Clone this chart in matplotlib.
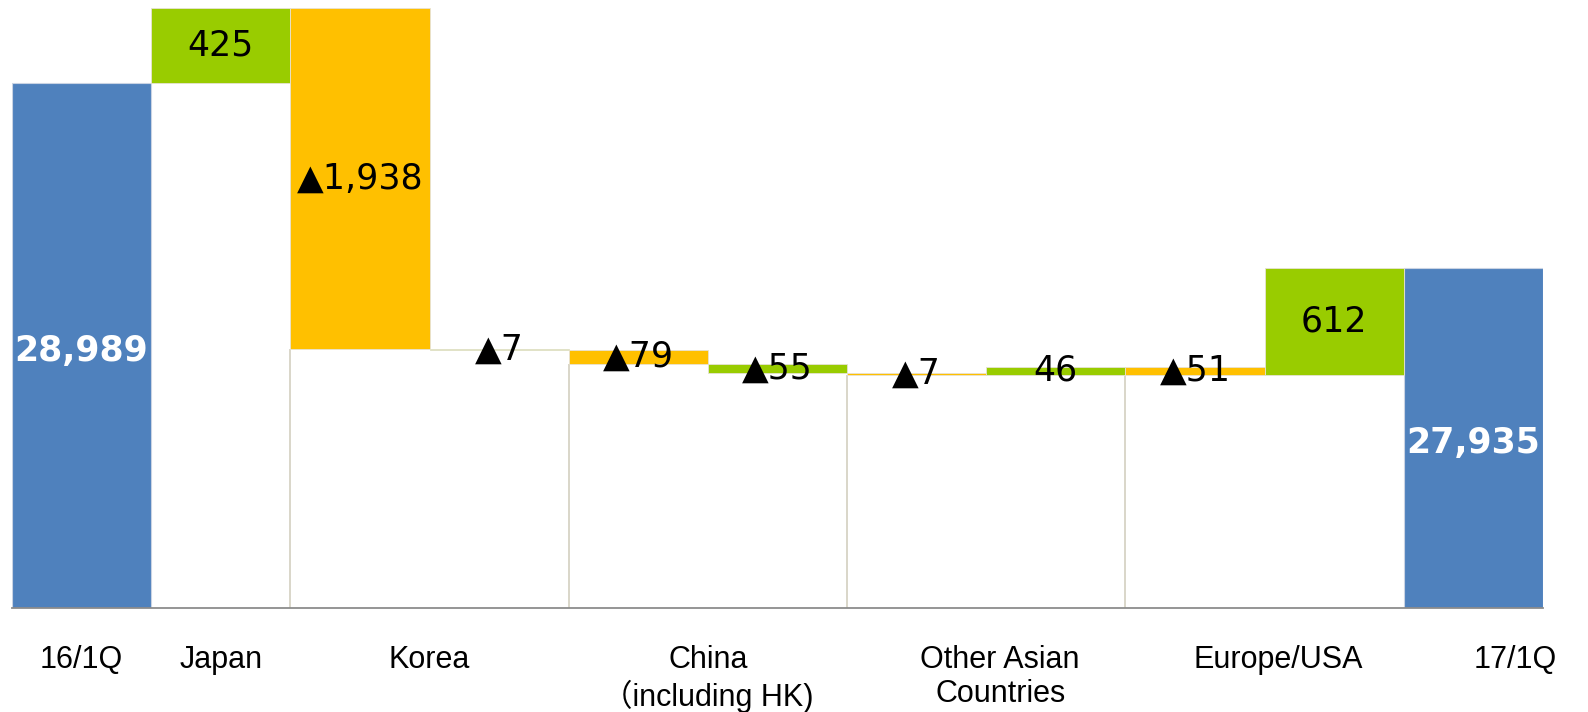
import matplotlib.pyplot as plt
import numpy as np

# Sales bridge 16/1Q -> 17/1Q by region
start_value = 28989
end_value = 27935
changes = [425, -1938, -7, -79, -55, -7, 46, -51, 612]
categories = ['16/1Q', 'Japan', 'Korea', 'China\n（including HK)',
              'Other Asian\nCountries', 'Europe/USA', '17/1Q']

BLUE = '#4F81BD'
GREEN = '#99CC00'
ORANGE = '#FFC000'
change_colors = [GREEN, ORANGE, GREEN, ORANGE, GREEN, ORANGE, GREEN, ORANGE, GREEN]

fig = plt.figure(figsize=(15.88, 7.12), dpi=100)
ax = fig.add_axes([12 / 1588, (712 - 608) / 712, 1531 / 1588, 600 / 712])

n = len(changes) + 2
x = np.arange(n)
base = 26000

# totals at both ends
ax.bar([0, n - 1], [start_value, end_value], width=1.0, color=BLUE,
       edgecolor='#c9d3e3', linewidth=0.8)

# floating change bars
before = start_value + np.concatenate([[0], np.cumsum(changes)[:-1]])
after = start_value + np.cumsum(changes)
bottoms = np.minimum(before, after)
heights = np.abs(changes)
ax.bar(x[1:-1], heights, bottom=bottoms, width=1.0, color=change_colors,
       edgecolor='#e6e2d6', linewidth=0.6)

# thin separators under the orange bars
for i, c in enumerate(changes):
    if change_colors[i] == ORANGE:
        ax.vlines(x[i + 1] - 0.5, base, bottoms[i], color='#d3cfc0', linewidth=1.2, zorder=0)

# value labels
for i, c in enumerate(changes):
    txt = f'{c:,}' if c > 0 else f'▲{abs(c):,}'
    ax.text(x[i + 1], bottoms[i] + heights[i] / 2, txt, ha='center', va='center',
            fontsize=25, color='black', family='DejaVu Sans')
for xi, v in [(0, start_value), (n - 1, end_value)]:
    ax.text(xi, base + (v - base) / 2 - 30, f'{v:,}', ha='center', va='center',
            fontsize=25, fontweight='bold', color='white', family='DejaVu Sans')

ax.set_xlim(-0.5, n - 0.5)
ax.set_ylim(base, 29414)
ax.set_xticks([])
ax.set_yticks([])
for side in ['left', 'right', 'top']:
    ax.spines[side].set_visible(False)
ax.spines['bottom'].set_color('#8c8c8c')
ax.spines['bottom'].set_linewidth(1.3)

# category labels under the axis
label_pos = [0, 1, 2.5, 4.5, 6.6, 8.6, 10.3]
for pos, lab in zip(label_pos, categories):
    ax.text(pos, -0.062, lab, transform=ax.get_xaxis_transform(), ha='center', va='top',
            fontsize=22, family=['Liberation Sans', 'Noto Sans CJK JP'],
            linespacing=1.17)

fig.savefig('out.png', dpi=100)
